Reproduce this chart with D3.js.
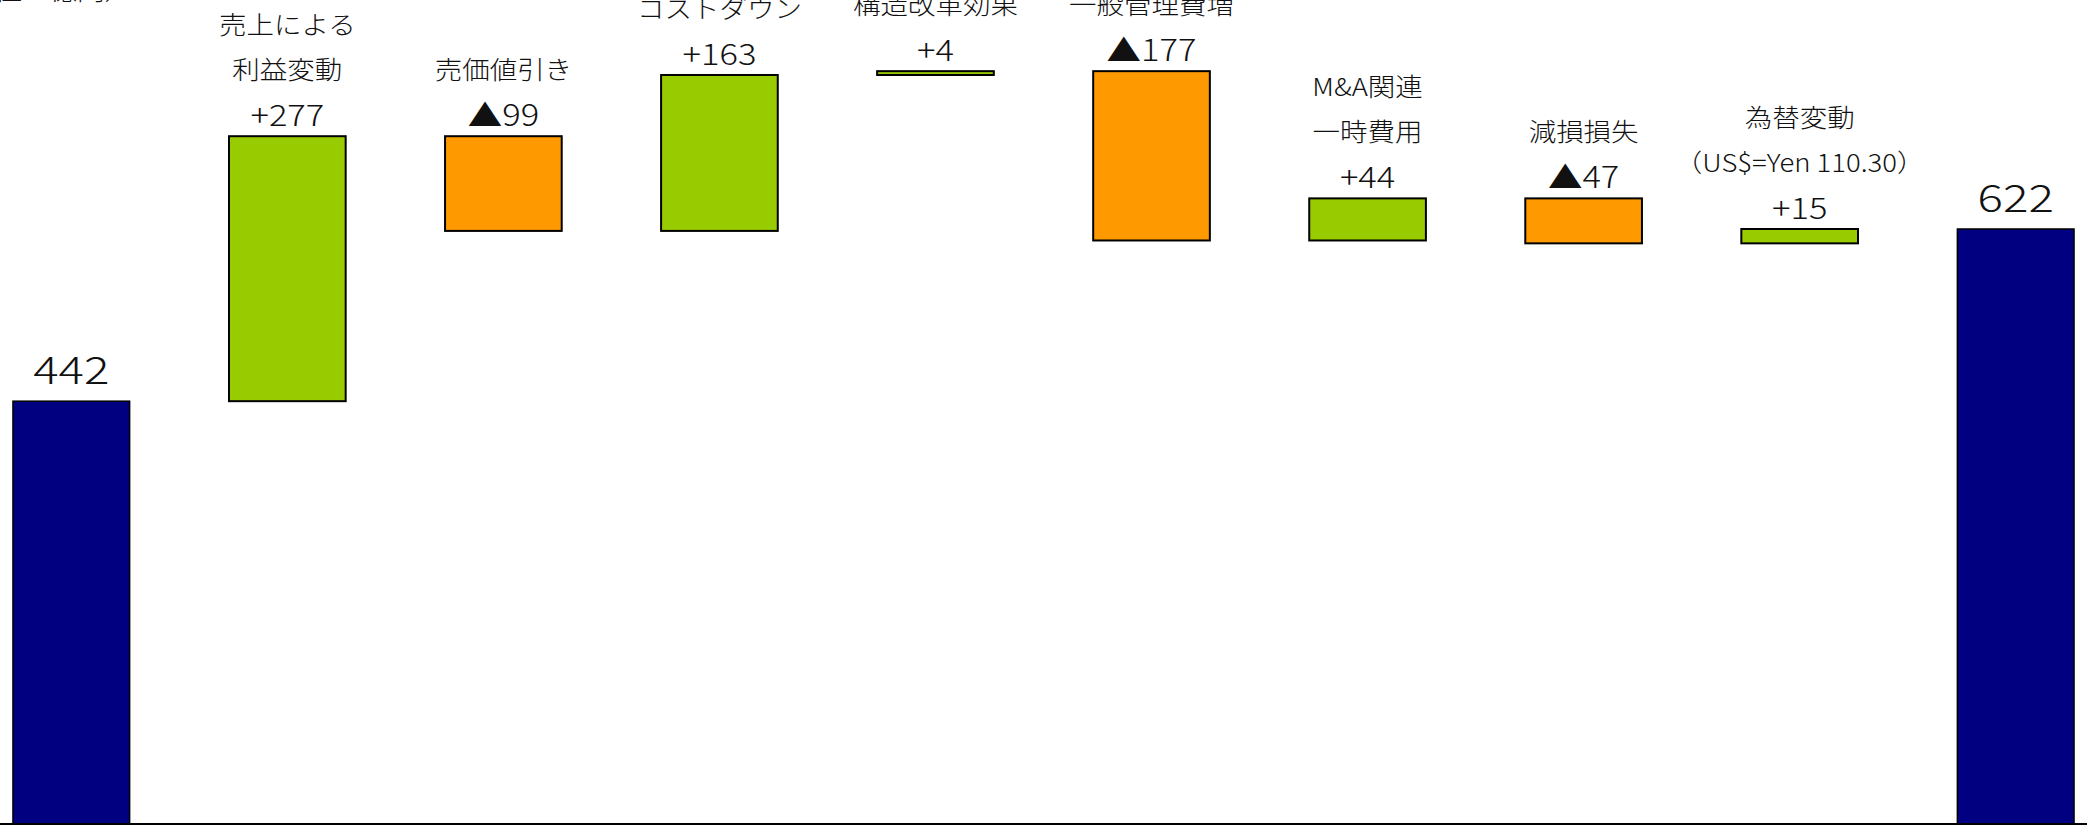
<!DOCTYPE html>
<html>
  <head>
    <meta charset="utf-8" />
    <style>
      body,
      html {
        margin: 0;
        padding: 0;
        background: #ffffff;
        overflow: hidden;
        font-family: "Noto Sans CJK JP", "Noto Sans", sans-serif;
      }
    </style>
    <script src="https://d3js.org/d3.v7.min.js"></script>
    <title>営業利益 増減要因</title>
  </head>

  <body>
    <svg id="bridge" width="2087" height="825"></svg>

    <script>
      // bar keys, in drawing order
      var steps = ["prev", "sales", "price", "cost", "restr", "sga", "ma", "impair", "fx", "curr"];
      // total bars and deltas (億円)
      var values = [442, 277, -99, 163, 4, -177, 44, -47, 15, 622];
      var isTotal = [true, false, false, false, false, false, false, false, false, true];
      // category captions above each bar (totals have none)
      var captions = [
        [],
        ["売上による", "利益変動"],
        ["売価値引き"],
        ["コストダウン"],
        ["構造改革効果"],
        ["一般管理費増"],
        ["M&A関連", "一時費用"],
        ["減損損失"],
        ["為替変動", "（US$=Yen 110.30）"],
        [],
      ];
      var unitLabel = "（単位：億円）";

      var colors = { total: "#000080", up: "#99CC00", down: "#FF9900" };

      // running total -> floating bars
      var running = 0;
      var bars = steps.map(function (k, i) {
        var v = values[i];
        var lo, hi;
        if (isTotal[i]) {
          lo = 0;
          hi = v;
          running = v;
        } else {
          lo = Math.min(running, running + v);
          hi = Math.max(running, running + v);
          running += v;
        }
        return { key: k, value: v, total: isTotal[i], lo: lo, hi: hi, lines: captions[i] };
      });

      var canvas = d3.select("#bridge");
      var width = +canvas.attr("width");

      var x = d3
        .scaleBand()
        .domain(steps)
        .range([0, width])
        .paddingInner(0.46)
        .paddingOuter(0.06);

      var y = d3.scaleLinear().domain([0, 622]).range([824, 229]);

      // the original lettering is a little wider than it is tall
      function label(sel, tx, ty, txt, size, sx) {
        return sel
          .append("text")
          .attr("transform", "translate(" + tx + "," + ty + ") scale(" + sx + ",1)")
          .attr("text-anchor", "middle")
          .attr("font-size", size)
          .attr("font-weight", 300)
          .attr("fill", "#111")
          .text(txt);
      }

      var g = canvas.append("g");

      g.selectAll("rect.bar")
        .data(bars)
        .enter()
        .append("rect")
        .attr("class", "bar")
        .attr("x", function (d) {
          return x(d.key);
        })
        .attr("width", x.bandwidth())
        .attr("y", function (d) {
          return y(d.hi);
        })
        .attr("height", function (d) {
          return y(d.lo) - y(d.hi);
        })
        .attr("fill", function (d) {
          return d.total ? colors.total : d.value >= 0 ? colors.up : colors.down;
        })
        .attr("stroke", "#000")
        .attr("stroke-width", function (d) {
          return d.total ? 1.5 : 2;
        });

      // axis line along the bottom
      g.append("line")
        .attr("x1", 0)
        .attr("x2", width)
        .attr("y1", y(0))
        .attr("y2", y(0))
        .attr("stroke", "#000")
        .attr("stroke-width", 2);

      bars.forEach(function (d) {
        var cx = x(d.key) + x.bandwidth() / 2;
        var top = y(d.hi);
        var txt, base;
        if (d.total) {
          txt = String(d.value);
          base = top - 17;
          label(g, cx, base, txt, 38, 1.25);
        } else {
          txt = (d.value >= 0 ? "+" : "▲") + Math.abs(d.value);
          base = top - 10;
          label(g, cx, base, txt, 30, 1.15);
        }
        var n = d.lines.length;
        d.lines.forEach(function (line, j) {
          var ly = base - 47 - (n - 1 - j) * 45;
          label(g, cx, ly, line, 25, 1.1);
        });
      });

      // unit caption, mostly cut off by the top edge
      canvas
        .append("text")
        .attr("transform", "translate(132,0) scale(1.1,1)")
        .attr("text-anchor", "end")
        .attr("font-size", 25)
        .attr("font-weight", 300)
        .attr("fill", "#111")
        .text(unitLabel);
    </script>
  </body>
</html>
